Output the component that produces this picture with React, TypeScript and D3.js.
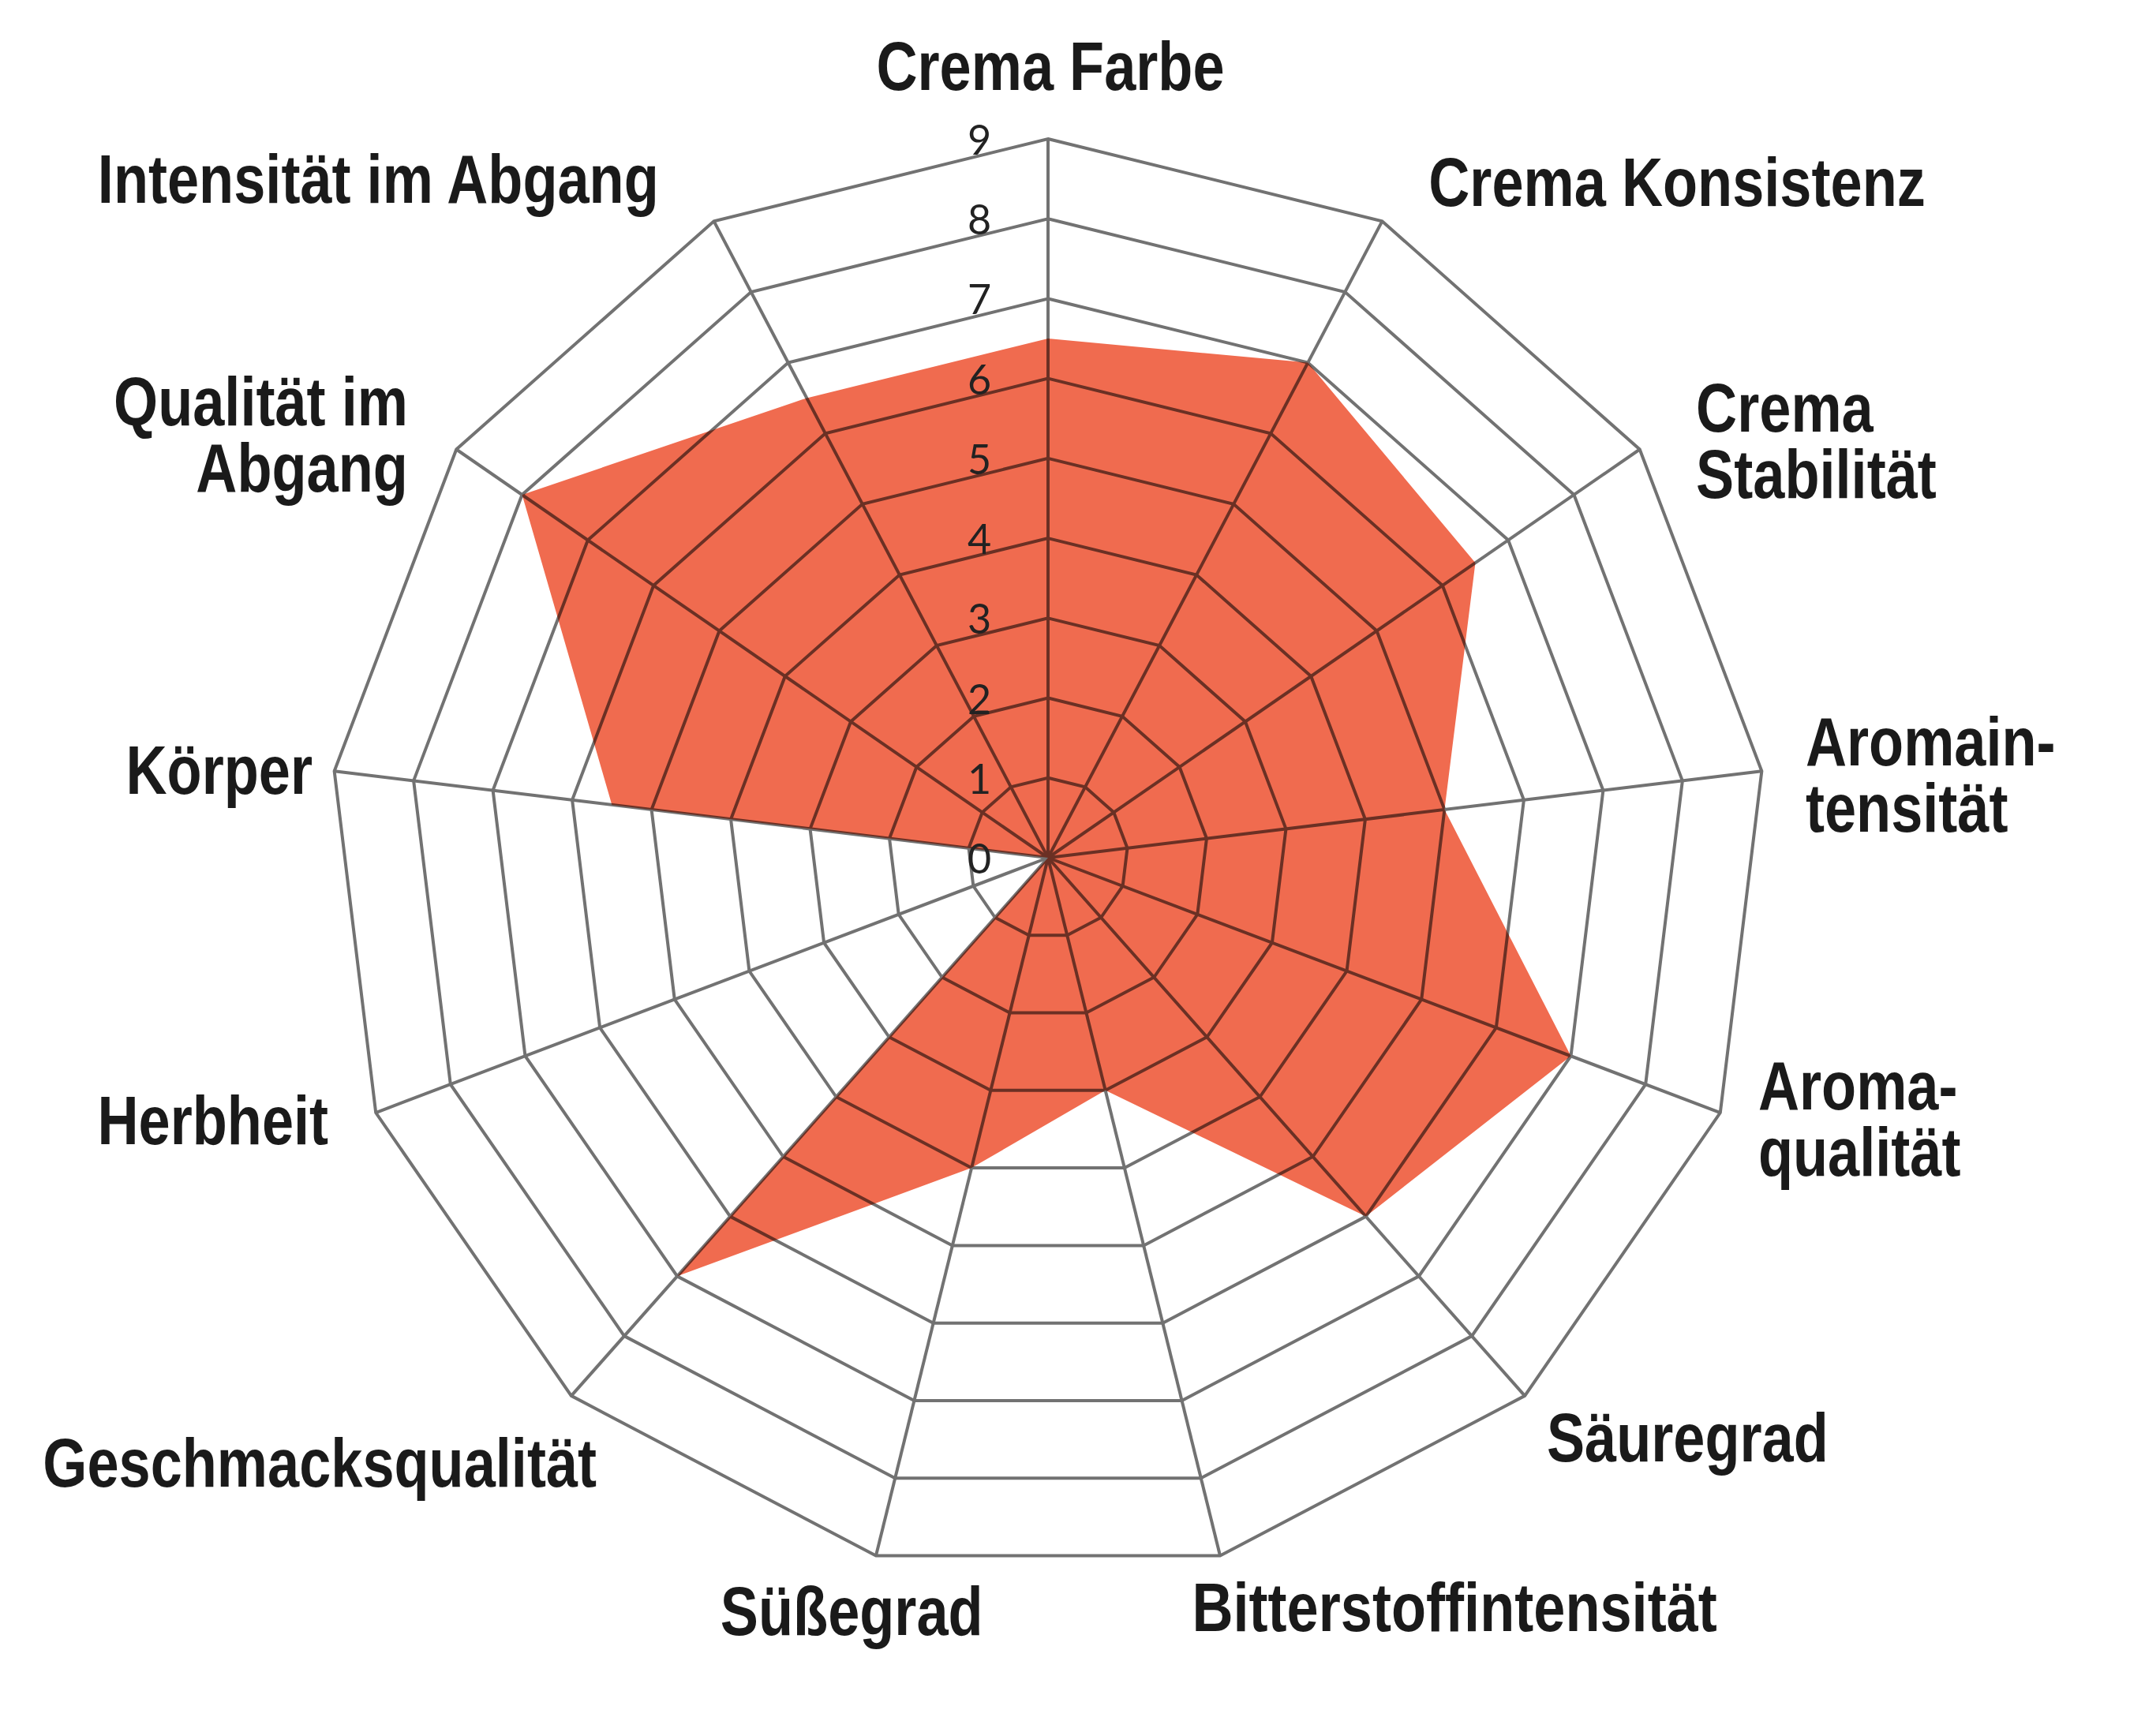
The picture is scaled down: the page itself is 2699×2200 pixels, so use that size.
import * as d3 from "d3";

// axis labels, clockwise from the top
const categories = [
    "Crema Farbe",
    "Crema Konsistenz",
    "Crema\nStabilität",
    "Aromain-\ntensität",
    "Aroma-\nqualität",
    "Säuregrad",
    "Bitterstoffintensität",
    "Süßegrad",
    "Geschmacksqualität",
    "Herbheit",
    "Körper",
    "Qualität im\nAbgang",
    "Intensität im Abgang",
];

const scores = [6.5, 7, 6.5, 5, 7, 6, 3, 4, 7, 0, 5.5, 8, 6.5];

const tickValues = [0, 1, 2, 3, 4, 5, 6, 7, 8, 9];

// small per-label nudges (dx, dy) to match the original placement
const labelNudge: [number, number][] = [
    [3, -34], [31, 2], [22, 22], [-4, 11], [-8, -15], [-12, 7], [-50, 6],
    [150, 11], [72, 39], [-4, -13], [32, 5], [-12, 14], [-42, -2],
];

const width = 2699;
const height = 2200;
const cx = 1328;
const cy = 1087;
const radius = 911;
const labelPad = 60;
const lineGap = 84;
const narrow = 0.82; // squeeze Liberation Sans Bold into a narrow face

const gridColor = "#727272";
const fillColor = "#F06B4F";

export default function App() {
    const n = categories.length;
    const rScale = d3.scaleLinear().domain([0, 9]).range([0, radius]);
    const angle = (i: number) => (i * 2 * Math.PI) / n;

    const ring = (level: number) =>
        d3.lineRadial<string>()
            .angle((_, i) => angle(i))
            .radius(() => rScale(level))
            .curve(d3.curveLinearClosed)(categories) as string;

    const area = d3.lineRadial<number>()
        .angle((_, i) => angle(i))
        .radius(d => rScale(d))
        .curve(d3.curveLinearClosed)(scores) as string;

    return (
        <svg width={width} height={height} viewBox={`0 0 ${width} ${height}`}
             style={{position: "absolute", left: 0, top: 0, background: "#fff"}}>
            <g transform={`translate(${cx},${cy})`}>
                {/* grid rings */}
                {tickValues.slice(1).map(v => (
                    <path key={v} d={ring(v)} fill="none" stroke={gridColor} strokeWidth={4}
                          strokeLinejoin="miter"/>
                ))}
                {/* spokes */}
                {categories.map((c, i) => {
                    const [x, y] = d3.pointRadial(angle(i), radius);
                    return <line key={c} x1={0} y1={0} x2={x} y2={y} stroke={gridColor} strokeWidth={4}/>;
                })}
                {/* data area, multiplied so the grid shows through darker */}
                <path d={area} fill={fillColor} style={{mixBlendMode: "multiply"}}/>

                {/* tick labels */}
                {tickValues.map(v => (
                    <text key={v} x={-87} y={-rScale(v)} textAnchor="middle" dominantBaseline="central"
                          fontFamily="Lato, 'Open Sans', sans-serif" fontSize={52} fill="#222">{v}</text>
                ))}

                {/* category labels */}
                {categories.map((c, i) => {
                    const a = angle(i);
                    const [px, py] = d3.pointRadial(a, radius + labelPad);
                    const s = Math.sin(a);
                    const anchor = Math.abs(s) < 0.05 ? "middle" : s > 0 ? "start" : "end";
                    const lines = c.split("\n");
                    const [dx, dy] = labelNudge[i];
                    const b1 = py + dy + 31.5 - (lines.length - 1) * (lineGap / 2);
                    return (
                        <g key={c} transform={`translate(${px + dx},${b1}) scale(${narrow},1)`}>
                            {lines.map((l, k) => (
                                <text key={k} x={0} y={k * lineGap} textAnchor={anchor}
                                      fontFamily="'Liberation Sans', Arial, sans-serif"
                                      fontWeight="bold" fontSize={88} fill="#1a1a1a">{l}</text>
                            ))}
                        </g>
                    );
                })}
            </g>
        </svg>
    );
}
